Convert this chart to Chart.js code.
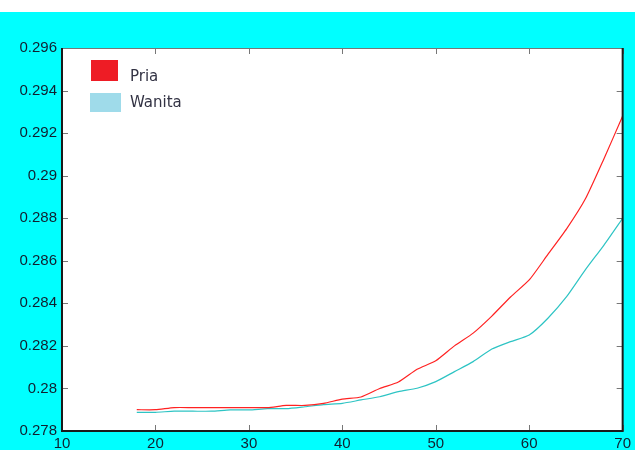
<!DOCTYPE html>
<html>
<head>
<meta charset="utf-8">
<script src="https://cdn.jsdelivr.net/npm/chart.js@4.4.1/dist/chart.umd.min.js"></script>
<style>
  html, body { margin: 0; padding: 0; background: #ffffff; }
  #wrap { position: absolute; left: 0; top: 12px; width: 635px; height: 438px; background: #00ffff; }
</style>
</head>
<body>
<div id="wrap"><canvas id="chart" width="635" height="438"></canvas></div>
<script>
// Age (years)
const ages = [18, 20, 22, 24, 26, 28, 30, 32, 34, 36, 38, 40, 42, 44, 46, 48, 50, 52, 54, 56, 58, 60, 62, 64, 66, 68, 70];
// Pria (male)
const pria = [0.2790, 0.2790, 0.2791, 0.2791, 0.2791, 0.2791, 0.2791, 0.2791, 0.2792, 0.2792, 0.2793, 0.2795, 0.2796, 0.2800,
  0.2803, 0.2809, 0.2813, 0.2820, 0.2826, 0.2834, 0.2843, 0.2851, 0.2863, 0.2875, 0.2889, 0.2908, 0.2928];
// Wanita (female)
const wanita = [0.27888, 0.27888, 0.27893, 0.27893, 0.27893, 0.27899, 0.27899, 0.27905, 0.27905, 0.27914, 0.27924, 0.2793,
  0.27946, 0.27961, 0.27985, 0.28001, 0.28032, 0.28079, 0.28126, 0.28185, 0.2822, 0.28251, 0.2833, 0.28431, 0.28557, 0.28674, 0.2880];

const xTicks = [10, 20, 30, 40, 50, 60, 70];
const yTicks = [0.278, 0.280, 0.282, 0.284, 0.286, 0.288, 0.290, 0.292, 0.294, 0.296];

const toPoints = vals => ages.map((a, i) => ({ x: a, y: vals[i] }));

// frame with inward tick marks on all four sides (matlab style)
const frameTicks = {
  id: 'frameTicks',
  afterDraw(chart) {
    const { ctx, chartArea: a, scales } = chart;
    ctx.save();
    ctx.strokeStyle = '#777777';
    ctx.lineWidth = 1;
    ctx.beginPath();
    yTicks.forEach(v => {
      const y = Math.round(scales.y.getPixelForValue(v)) + 0.5;
      ctx.moveTo(a.left, y); ctx.lineTo(a.left + 6, y);
      ctx.moveTo(a.right, y); ctx.lineTo(a.right - 6, y);
    });
    xTicks.forEach(v => {
      const x = Math.round(scales.x.getPixelForValue(v)) + 0.5;
      ctx.moveTo(x, a.bottom); ctx.lineTo(x, a.bottom - 6);
      ctx.moveTo(x, a.top); ctx.lineTo(x, a.top + 6);
    });
    ctx.stroke();
    // top edge thin gray
    ctx.beginPath();
    ctx.moveTo(a.left, a.top + 0.5); ctx.lineTo(a.right, a.top + 0.5);
    ctx.stroke();
    // left, bottom, right edges dark
    ctx.strokeStyle = '#1a1a1a';
    ctx.lineWidth = 2;
    ctx.beginPath();
    ctx.moveTo(a.left, a.top); ctx.lineTo(a.left, a.bottom);
    ctx.lineTo(a.right, a.bottom); ctx.lineTo(a.right, a.top);
    ctx.stroke();
    ctx.restore();
  }
};

// white plot background
const plotBg = {
  id: 'plotBg',
  beforeDraw(chart) {
    const { ctx, chartArea: a } = chart;
    ctx.save();
    ctx.fillStyle = '#ffffff';
    ctx.fillRect(a.left, a.top, a.right - a.left, a.bottom - a.top);
    ctx.restore();
  }
};

// legend drawn inside the plot area, top-left
const boxLegend = {
  id: 'boxLegend',
  afterDraw(chart) {
    const { ctx, chartArea: a } = chart;
    const swatches = [
      { color: '#ee1c25', x: 29, y: 12, w: 27, h: 21, textY: 33 },
      { color: '#9fdbea', x: 28, y: 45, w: 31, h: 19, textY: 58.5 }
    ];
    ctx.save();
    ctx.font = '15px "DejaVu Sans", Verdana, sans-serif';
    ctx.textBaseline = 'alphabetic';
    chart.data.datasets.forEach((ds, i) => {
      const s = swatches[i];
      ctx.fillStyle = s.color;
      ctx.fillRect(a.left + s.x, a.top + s.y, s.w, s.h);
      ctx.fillStyle = '#333344';
      ctx.fillText(ds.label, a.left + 68, a.top + s.textY);
    });
    ctx.restore();
  }
};

new Chart(document.getElementById('chart'), {
  type: 'line',
  data: {
    datasets: [
      {
        label: 'Pria',
        data: toPoints(pria),
        borderColor: '#ff2222',
        borderWidth: 1.2,
        pointRadius: 0,
        tension: 0.2,
        fill: false
      },
      {
        label: 'Wanita',
        data: toPoints(wanita),
        borderColor: '#2ec4c4',
        borderWidth: 1.2,
        pointRadius: 0,
        tension: 0.2,
        fill: false
      }
    ]
  },
  options: {
    responsive: false,
    animation: false,
    layout: { padding: { top: 36, right: 7, left: 0, bottom: 0 } },
    plugins: {
      legend: { display: false },
      tooltip: { enabled: false }
    },
    scales: {
      x: {
        type: 'linear',
        min: 10,
        max: 70,
        afterFit: s => { s.height = 19; },
        afterBuildTicks: s => { s.ticks = xTicks.map(v => ({ value: v })); },
        grid: { display: false, drawTicks: false },
        border: { display: false },
        ticks: {
          padding: 4,
          color: '#102030',
          font: { size: 15, family: '"Liberation Sans", Arial, sans-serif' },
          maxRotation: 0
        }
      },
      y: {
        min: 0.278,
        max: 0.296,
        afterFit: s => { s.width = 62; },
        afterBuildTicks: s => { s.ticks = yTicks.map(v => ({ value: v })); },
        grid: { display: false, drawTicks: false },
        border: { display: false },
        ticks: {
          padding: 5,
          color: '#102030',
          font: { size: 15, family: '"Liberation Sans", Arial, sans-serif' },
          callback: v => String(+v.toFixed(3))
        }
      }
    }
  },
  plugins: [plotBg, frameTicks, boxLegend]
});
</script>
</body>
</html>
